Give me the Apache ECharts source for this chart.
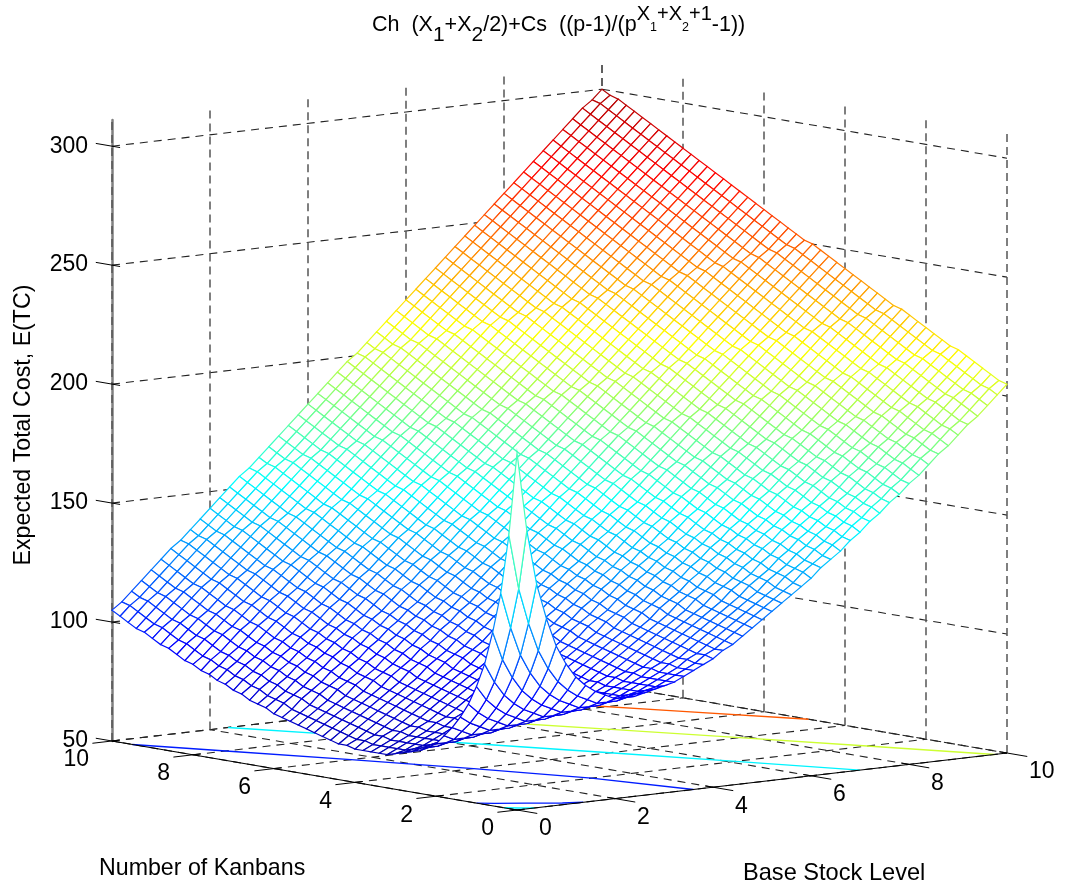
<!DOCTYPE html>
<html><head><meta charset="utf-8">
<style>html,body{margin:0;padding:0;background:#fff}#c{width:1065px;height:883px}</style>
<script src="https://cdn.jsdelivr.net/npm/echarts@6/dist/echarts.min.js"></script>
</head><body><div id="c"></div>
<script>
var titleRuns = "{m|Ch  (X}{s|1}{m|+X}{s|2}{m|/2)+Cs  ((p-1)/(p}{u|X}{v|1}{u|+X}{v|2}{u|+1}{m|-1))}";
var zAxisName = "Expected Total Cost, E(TC)";
var kAxisName = "Number of Kanbans";
var bAxisName = "Base Stock Level";
var bTicks = [0,2,4,6,8,10];
var kTicks = [0,2,4,6,8,10];
var zTicks = [50,100,150,200,250,300];
var zMax = 311;
var colorMin = 64, colorMax = 300;
var jetStops = ['#0000b4','#0000ff','#007fff','#00ffff','#7fff7f','#ffff00','#ff7f00','#ff0000','#a80000'];
var gridStep = 0.2;
// rows: Number of Kanbans 0..10 (step 0.2); columns: Base Stock Level 0..10 (step 0.2)
var surfaceZ = [
[200,167,144,129,117,109,103,99,96,94,92,92,92,93,94,95,96,98,100,102,104,107,109,112,115,118,121,124,127,130,133,137,140,143,147,150,154,157,161,164,168,171,175,179,182,186,190,193,197,201,205],
[165,142,127,115,107,101,97,94,92,90,90,90,91,92,93,94,96,98,100,102,105,107,110,113,116,119,122,125,128,131,135,138,141,145,148,152,155,159,162,166,169,173,177,180,184,188,191,195,199,203,206],
[140,125,113,105,99,95,92,90,88,88,88,89,90,91,92,94,96,98,100,103,105,108,111,114,117,120,123,126,129,133,136,139,143,146,150,153,157,160,164,167,171,175,178,182,186,189,193,197,201,204,208],
[123,111,103,97,93,90,88,86,86,86,87,88,89,90,92,94,96,98,101,103,106,109,112,115,118,121,124,127,131,134,137,141,144,148,151,155,158,162,165,169,173,176,180,184,187,191,195,199,202,206,210],
[109,101,95,91,88,86,84,84,84,85,86,87,88,90,92,94,96,99,101,104,107,110,113,116,119,122,125,129,132,135,139,142,146,149,153,156,160,163,167,171,174,178,182,185,189,193,197,200,204,208,212],
[99,93,89,86,84,82,82,82,83,84,85,86,88,90,92,94,97,99,102,105,108,111,114,117,120,123,127,130,133,137,140,144,147,151,154,158,161,165,169,172,176,180,183,187,191,195,198,202,206,210,214],
[91,87,84,82,80,80,80,81,82,83,84,86,88,90,92,95,97,100,103,106,109,112,115,118,121,125,128,131,135,138,142,145,149,152,156,159,163,167,170,174,178,181,185,189,193,196,200,204,208,212,216],
[85,82,80,78,78,78,79,80,81,82,84,86,88,90,93,95,98,101,104,107,110,113,116,119,123,126,129,133,136,140,143,147,150,154,157,161,165,168,172,176,179,183,187,191,194,198,202,206,210,214,217],
[80,78,76,76,76,77,78,79,80,82,84,86,88,91,93,96,99,102,105,108,111,114,117,121,124,127,131,134,138,141,145,148,152,155,159,163,166,170,174,177,181,185,189,192,196,200,204,208,212,215,219],
[76,74,74,74,75,76,77,78,80,82,84,86,89,91,94,97,100,103,106,109,112,115,119,122,125,129,132,136,139,143,146,150,153,157,161,164,168,172,175,179,183,187,190,194,198,202,206,210,213,217,221],
[72,72,72,73,74,75,76,78,80,82,84,87,89,92,95,98,101,104,107,110,113,117,120,123,127,130,134,137,141,144,148,151,155,159,162,166,170,173,177,181,185,188,192,196,200,204,208,211,215,219,223],
[70,70,71,72,73,74,76,78,80,82,85,87,90,93,96,99,102,105,108,111,115,118,121,125,128,132,135,139,142,146,149,153,157,160,164,168,171,175,179,183,186,190,194,198,202,206,209,213,217,221,225],
[68,69,70,71,72,74,76,78,80,83,85,88,91,94,97,100,103,106,109,113,116,119,123,126,130,133,137,140,144,147,151,155,158,162,166,169,173,177,181,184,188,192,196,200,204,207,211,215,219,223,227],
[67,68,69,70,72,74,76,78,81,83,86,89,92,95,98,101,104,107,111,114,117,121,124,128,131,135,138,142,145,149,153,156,160,164,167,171,175,179,182,186,190,194,198,202,205,209,213,217,221,225,229],
[66,67,68,70,72,74,76,79,81,84,87,90,93,96,99,102,105,109,112,115,119,122,126,129,133,136,140,143,147,151,154,158,162,165,169,173,177,180,184,188,192,196,200,203,207,211,215,219,223,227,230],
[65,66,68,70,72,74,77,79,82,85,88,91,94,97,100,103,107,110,113,117,120,124,127,131,134,138,141,145,149,152,156,160,163,167,171,175,178,182,186,190,194,198,201,205,209,213,217,221,225,228,232],
[64,66,68,70,72,75,77,80,83,86,89,92,95,98,101,105,108,111,115,118,122,125,129,132,136,139,143,147,150,154,158,161,165,169,173,176,180,184,188,192,196,199,203,207,211,215,219,223,226,230,234],
[64,66,68,70,73,75,78,81,84,87,90,93,96,99,103,106,109,113,116,120,123,127,130,134,137,141,145,148,152,156,159,163,167,171,174,178,182,186,190,194,197,201,205,209,213,217,221,224,228,232,236],
[64,66,68,71,73,76,79,82,85,88,91,94,97,101,104,107,111,114,118,121,125,128,132,135,139,143,146,150,154,157,161,165,169,172,176,180,184,188,192,195,199,203,207,211,215,219,222,226,230,234,238],
[64,66,69,71,74,77,80,83,86,89,92,95,99,102,105,109,112,116,119,123,126,130,133,137,141,144,148,152,155,159,163,167,170,174,178,182,186,190,193,197,201,205,209,213,217,220,224,228,232,236,240],
[64,67,69,72,75,78,81,84,87,90,93,97,100,103,107,110,114,117,121,124,128,131,135,139,142,146,150,153,157,161,165,168,172,176,180,184,188,191,195,199,203,207,211,215,218,222,226,230,234,238,242],
[65,67,70,73,76,79,82,85,88,91,95,98,101,105,108,112,115,119,122,126,129,133,137,140,144,148,151,155,159,163,166,170,174,178,182,186,189,193,197,201,205,209,213,216,220,224,228,232,236,240,244],
[65,68,71,74,77,80,83,86,89,93,96,99,103,106,110,113,117,120,124,127,131,135,138,142,146,149,153,157,161,164,168,172,176,180,184,187,191,195,199,203,207,211,214,218,222,226,230,234,238,242,246],
[66,69,72,75,78,81,84,87,91,94,97,101,104,108,111,115,118,122,125,129,133,136,140,144,147,151,155,159,162,166,170,174,178,182,185,189,193,197,201,205,209,212,216,220,224,228,232,236,240,244,248],
[67,70,73,76,79,82,85,89,92,95,99,102,106,109,113,116,120,123,127,131,134,138,142,145,149,153,157,160,164,168,172,176,180,183,187,191,195,199,203,207,210,214,218,222,226,230,234,238,242,246,250],
[68,71,74,77,80,83,87,90,93,97,100,104,107,111,114,118,121,125,129,132,136,140,143,147,151,155,158,162,166,170,174,178,181,185,189,193,197,201,205,208,212,216,220,224,228,232,236,240,244,248,251],
[69,72,75,78,81,85,88,91,95,98,102,105,109,112,116,119,123,127,130,134,138,141,145,149,153,156,160,164,168,172,176,179,183,187,191,195,199,203,206,210,214,218,222,226,230,234,238,242,246,249,253],
[70,73,76,79,83,86,89,93,96,100,103,107,110,114,117,121,125,128,132,136,139,143,147,151,154,158,162,166,170,174,177,181,185,189,193,197,201,204,208,212,216,220,224,228,232,236,240,244,247,251,255],
[71,74,77,81,84,87,91,94,98,101,105,108,112,115,119,123,126,130,134,137,141,145,149,152,156,160,164,168,172,175,179,183,187,191,195,199,202,206,210,214,218,222,226,230,234,238,242,245,249,253,257],
[72,75,79,82,85,89,92,96,99,103,106,110,113,117,121,124,128,132,135,139,143,147,150,154,158,162,166,170,173,177,181,185,189,193,197,200,204,208,212,216,220,224,228,232,236,240,243,247,251,255,259],
[73,77,80,83,87,90,94,97,101,104,108,111,115,119,122,126,130,133,137,141,145,148,152,156,160,164,168,171,175,179,183,187,191,195,198,202,206,210,214,218,222,226,230,234,238,241,245,249,253,257,261],
[75,78,81,85,88,92,95,99,102,106,109,113,117,120,124,128,131,135,139,143,146,150,154,158,162,166,169,173,177,181,185,189,193,196,200,204,208,212,216,220,224,228,232,236,239,243,247,251,255,259,263],
[76,79,83,86,90,93,97,100,104,107,111,115,118,122,126,129,133,137,141,144,148,152,156,160,164,167,171,175,179,183,187,191,194,198,202,206,210,214,218,222,226,230,234,237,241,245,249,253,257,261,265],
[77,81,84,88,91,95,98,102,105,109,113,116,120,124,127,131,135,139,142,146,150,154,158,162,165,169,173,177,181,185,189,192,196,200,204,208,212,216,220,224,228,232,235,239,243,247,251,255,259,263,267],
[79,82,86,89,93,96,100,103,107,111,114,118,122,125,129,133,137,140,144,148,152,156,160,163,167,171,175,179,183,187,190,194,198,202,206,210,214,218,222,226,230,233,237,241,245,249,253,257,261,265,269],
[80,84,87,91,94,98,101,105,109,112,116,120,123,127,131,135,138,142,146,150,154,158,161,165,169,173,177,181,185,188,192,196,200,204,208,212,216,220,224,228,231,235,239,243,247,251,255,259,263,267,271],
[82,85,89,92,96,99,103,107,110,114,118,121,125,129,133,136,140,144,148,152,156,159,163,167,171,175,179,183,186,190,194,198,202,206,210,214,218,222,226,229,233,237,241,245,249,253,257,261,265,269,273],
[83,87,90,94,97,101,105,108,112,116,119,123,127,131,134,138,142,146,150,154,157,161,165,169,173,177,181,184,188,192,196,200,204,208,212,216,220,224,227,231,235,239,243,247,251,255,259,263,267,271,275],
[85,88,92,95,99,103,106,110,114,117,121,125,129,132,136,140,144,148,152,155,159,163,167,171,175,179,182,186,190,194,198,202,206,210,214,218,222,225,229,233,237,241,245,249,253,257,261,265,269,273,277],
[86,90,93,97,101,104,108,112,115,119,123,127,130,134,138,142,146,150,153,157,161,165,169,173,177,180,184,188,192,196,200,204,208,212,216,220,223,227,231,235,239,243,247,251,255,259,263,267,271,275,279],
[88,91,95,99,102,106,110,113,117,121,125,128,132,136,140,144,148,151,155,159,163,167,171,175,178,182,186,190,194,198,202,206,210,214,218,221,225,229,233,237,241,245,249,253,257,261,265,269,273,277,281],
[89,93,97,100,104,108,111,115,119,123,126,130,134,138,142,146,149,153,157,161,165,169,173,176,180,184,188,192,196,200,204,208,212,216,219,223,227,231,235,239,243,247,251,255,259,263,267,271,275,279,283],
[91,95,98,102,106,109,113,117,121,124,128,132,136,140,144,147,151,155,159,163,167,171,174,178,182,186,190,194,198,202,206,210,214,217,221,225,229,233,237,241,245,249,253,257,261,265,269,273,277,281,285],
[93,96,100,104,107,111,115,119,122,126,130,134,138,142,145,149,153,157,161,165,169,172,176,180,184,188,192,196,200,204,208,212,215,219,223,227,231,235,239,243,247,251,255,259,263,267,271,275,279,283,287],
[94,98,102,105,109,113,117,120,124,128,132,136,140,143,147,151,155,159,163,167,170,174,178,182,186,190,194,198,202,206,210,213,217,221,225,229,233,237,241,245,249,253,257,261,265,269,273,277,281,285,289],
[96,100,103,107,111,115,118,122,126,130,134,138,141,145,149,153,157,161,165,168,172,176,180,184,188,192,196,200,204,208,211,215,219,223,227,231,235,239,243,247,251,255,259,263,267,271,275,279,283,287,291],
[98,101,105,109,113,116,120,124,128,132,136,139,143,147,151,155,159,163,166,170,174,178,182,186,190,194,198,202,206,209,213,217,221,225,229,233,237,241,245,249,253,257,261,265,269,273,277,281,285,289,293],
[99,103,107,111,114,118,122,126,130,134,137,141,145,149,153,157,161,164,168,172,176,180,184,188,192,196,200,204,207,211,215,219,223,227,231,235,239,243,247,251,255,259,263,267,271,275,279,283,287,291,295],
[101,105,109,112,116,120,124,128,132,135,139,143,147,151,155,159,162,166,170,174,178,182,186,190,194,198,202,205,209,213,217,221,225,229,233,237,241,245,249,253,257,261,265,269,273,277,281,285,289,293,297],
[103,107,110,114,118,122,126,130,133,137,141,145,149,153,157,160,164,168,172,176,180,184,188,192,196,200,203,207,211,215,219,223,227,231,235,239,243,247,251,255,259,263,267,271,275,279,283,287,291,295,298],
[105,108,112,116,120,124,128,131,135,139,143,147,151,155,158,162,166,170,174,178,182,186,190,194,198,201,205,209,213,217,221,225,229,233,237,241,245,249,253,257,261,265,269,273,277,281,285,289,293,296,300]
];
// floor contours: [base stock, kanbans]
var contourLevels = [100,100,150,150,200,250];
var contourLines = [
[[0,9.5],[0.67,8],[1.57,6],[2.42,4],[3.17,2],[3.6,0]],
[[0,1],[0.2,0.8],[0.6,0.5],[1.05,0.15],[1.35,0]],
[[2.37,10],[3.33,8],[4.27,6],[5.2,4],[6.12,2],[7,0]],
[[0,0.32],[0.17,0.16],[0.35,0]],
[[4.93,10],[5.9,8],[6.88,6],[7.85,4],[8.8,2],[9.75,0]],
[[7.45,10],[8,8.9],[9,6.9],[10,4.9]]
];

var FONT = '"Liberation Sans", Arial, sans-serif';
var UB = 49, UK = 40.5, VB = 2.395, VK = 2.9, DROP = 29;
function project(b, k, z) {
  return [b * UB + (10 - k) * UK, z - DROP + b * VB + k * VK];
}
function jet(z) {
  return echarts.color.lerp(Math.min(1, Math.max(0, (z - colorMin) / (colorMax - colorMin))), jetStops);
}
function seg(b1, k1, z1, b2, k2, z2) {
  return project(b1, k1, z1).concat(project(b2, k2, z2));
}
function segmentSeries(rows, style, z) {
  return {
    type: 'custom', coordinateSystem: 'cartesian2d', silent: true, animation: false, z: z,
    clip: false, data: rows, progressive: 0,
    renderItem: function (p, api) {
      var a = api.coord([api.value(0), api.value(1)]), c = api.coord([api.value(2), api.value(3)]);
      return { type: 'line', shape: { x1: a[0], y1: a[1], x2: c[0], y2: c[1] }, style: style };
    }
  };
}
function labelSeries(rows, texts, dx, dy, align) {
  return {
    type: 'custom', coordinateSystem: 'cartesian2d', silent: true, animation: false, z: 6,
    clip: false, data: rows, progressive: 0,
    renderItem: function (p, api) {
      var a = api.coord([api.value(0), api.value(1)]);
      return { type: 'text', x: a[0] + dx, y: a[1] + dy, style: {
        text: String(texts[p.dataIndex]), fontFamily: FONT, fontSize: 23, fill: '#000',
        textAlign: align, textVerticalAlign: 'middle' } };
    }
  };
}
var gridRows = [], wallRows = [], axisRows = [], tickRows = [];
bTicks.forEach(function (b) {
  gridRows.push(seg(b, 0, 50, b, 10, 50));
  wallRows.push(seg(b, 10, 50, b, 10, zMax));
  tickRows.push(seg(b, 0.18, 50, b, -0.5, 50));
});
kTicks.forEach(function (k) {
  gridRows.push(seg(0, k, 50, 10, k, 50));
  wallRows.push(seg(10, k, 50, 10, k, zMax));
  tickRows.push(seg(0.15, k, 50, -0.4, k, 50));
});
zTicks.forEach(function (z) {
  gridRows.push(seg(0, 10, z, 10, 10, z));
  gridRows.push(seg(10, 10, z, 10, 0, z));
  tickRows.push(seg(0, 9.8, z, 0, 10.4, z));
});
axisRows.push(seg(0, 0, 50, 10, 0, 50));
axisRows.push(seg(0, 0, 50, 0, 10, 50));

var cells = [];
for (var j = surfaceZ.length - 2; j >= 0; j--) {
  for (var i = surfaceZ[0].length - 2; i >= 0; i--) cells.push([i, j]);
}
var surfaceSeries = {
  type: 'custom', coordinateSystem: 'cartesian2d', silent: true, animation: false, z: 4,
  clip: false, data: cells, progressive: 0,
  renderItem: function (p, api) {
    var i = api.value(0), j = api.value(1);
    var corners = [[i, j], [i + 1, j], [i + 1, j + 1], [i, j + 1]];
    var sum = 0;
    var pts = corners.map(function (c) {
      var z = surfaceZ[c[1]][c[0]];
      sum += z;
      return api.coord(project(c[0] * gridStep, c[1] * gridStep, z));
    });
    return { type: 'polygon', shape: { points: pts },
      style: { fill: '#fff', stroke: jet(sum / 4), lineWidth: 1.2 } };
  }
};
var contourSeries = contourLines.map(function (pts, n) {
  return {
    type: 'line', showSymbol: false, silent: true, animation: false, z: 3, clip: false,
    lineStyle: { color: jet(contourLevels[n]), width: 1.4 },
    data: pts.map(function (q) { return project(q[0], q[1], 50); })
  };
});

var chart = echarts.init(document.getElementById('c'), null, { renderer: 'canvas', width: 1065, height: 883 });
chart.setOption({
  backgroundColor: '#fff',
  animation: false,
  title: {
    text: titleRuns, left: 372, top: 2, padding: 0,
    textStyle: { rich: {
      m: { fontFamily: FONT, fontWeight: 'normal', fontSize: 21.5, lineHeight: 46, color: '#000' },
      s: { fontFamily: FONT, fontWeight: 'normal', fontSize: 21, verticalAlign: 'bottom', padding: [0, 0, 2, 0], color: '#000' },
      u: { fontFamily: FONT, fontWeight: 'normal', fontSize: 20, verticalAlign: 'top', padding: [2, 0, 0, 0], color: '#000' },
      v: { fontFamily: FONT, fontWeight: 'normal', fontSize: 12.5, verticalAlign: 'bottom', padding: [0, 0, 14, 0], color: '#000' }
    } }
  },
  grid: { left: 112, width: 895, top: 120, height: 621, containLabel: false, outerBoundsMode: 'none' },
  xAxis: { type: 'value', min: 0, max: 895, show: false },
  yAxis: {
    type: 'value', min: 50, max: zMax, interval: 50, position: 'left',
    name: zAxisName, nameLocation: 'middle', nameGap: 77,
    nameTextStyle: { fontFamily: FONT, fontSize: 23.2, color: '#000', padding: [0, 0, 0, 11] },
    axisLine: { show: true, onZero: false, lineStyle: { color: '#808080', width: 2.5 } },
    axisTick: { show: false },
    splitLine: { show: false },
    axisLabel: { show: true, margin: 24, showMaxLabel: false, fontFamily: FONT, fontSize: 23, color: '#000', padding: [0, 0, 16, 0] }
  },
  graphic: [
    { type: 'text', left: 99, top: 857, style: { text: kAxisName, fontFamily: FONT, fontSize: 23.2, fill: '#000' } },
    { type: 'text', left: 743, top: 861, style: { text: bAxisName, fontFamily: FONT, fontSize: 23.6, fill: '#000' } }
  ],
  series: [
    segmentSeries(gridRows, { stroke: '#222', lineWidth: 1.1, lineDash: [8, 6], fill: null }, 2),
    segmentSeries(wallRows, { stroke: '#555', lineWidth: 1.5, lineDash: [8, 5], fill: null }, 2)
  ].concat(contourSeries).concat([
    surfaceSeries,
    segmentSeries(axisRows, { stroke: '#000', lineWidth: 1.2, fill: null }, 5),
    segmentSeries(tickRows, { stroke: '#000', lineWidth: 1, fill: null }, 5),
    labelSeries(bTicks.map(function (b) { return project(b, 0, 50); }), bTicks, 22, 19, 'left'),
    labelSeries(kTicks.map(function (k) { return project(0, k, 50); }), kTicks, -23, 19, 'right')
  ])
});
</script></body></html>
